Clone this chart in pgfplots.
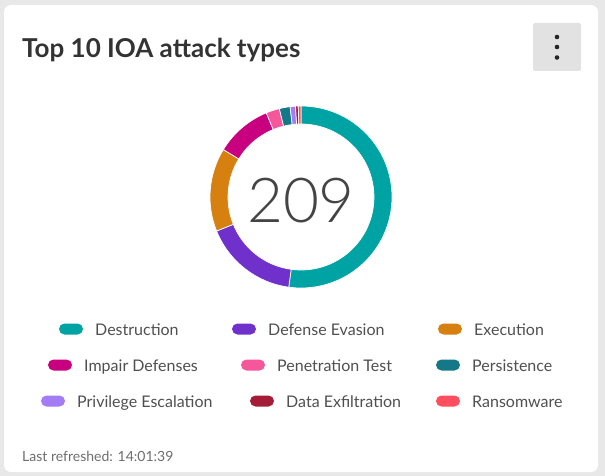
\documentclass[border=0pt]{standalone}
\usepackage{pgfplots}
\pgfplotsset{compat=1.18}
\usepackage{pgfplotstable}
\usepackage{fontspec}
\setmainfont{Lato}
\newfontfamily\thinfont{Lato}[UprightFont={* Light}]
\definecolor{bgout}{HTML}{E8E8E8}
\definecolor{btn}{HTML}{E2E2E2}
\definecolor{titlec}{HTML}{333333}
\definecolor{legc}{HTML}{505050}
\definecolor{footc}{HTML}{6E6E6E}
\definecolor{numc}{HTML}{444444}
\definecolor{cDestr}{HTML}{00A3A3}
\definecolor{cDefEv}{HTML}{7030CC}
\definecolor{cExec}{HTML}{D68010}
\definecolor{cImpair}{HTML}{C8007F}
\definecolor{cPen}{HTML}{F5589A}
\definecolor{cPers}{HTML}{157889}
\definecolor{cPriv}{HTML}{A47CF6}
\definecolor{cExfil}{HTML}{A51C38}
\definecolor{cRans}{HTML}{FF4F5E}

\pgfplotstableread[col sep=comma]{
name,value,col
Destruction,109,cDestr
Defense Evasion,35,cDefEv
Execution,31,cExec
Impair Defenses,21,cImpair
Penetration Test,5,cPen
Persistence,4,cPers
Privilege Escalation,2,cPriv
Data Exfiltration,1,cExfil
Ransomware,1,cRans
}\datatable

% build donut drawing commands from the table
\def\cx{301}\def\cy{197}\def\ro{91}\def\ri{73}
\def\total{0}
\pgfplotsforeachungrouped \i in {0,...,8}{%
  \pgfplotstablegetelem{\i}{value}\of\datatable
  \pgfmathsetmacro\total{\total+\pgfplotsretval}%
}
\def\donutcmds{}
\def\cum{0}
\pgfplotsforeachungrouped \i in {0,...,8}{%
  \pgfplotstablegetelem{\i}{value}\of\datatable \let\v=\pgfplotsretval
  \pgfplotstablegetelem{\i}{col}\of\datatable \let\c=\pgfplotsretval
  \pgfmathsetmacro\aone{\cum/\total*360}%
  \pgfmathsetmacro\cum{\cum+\v}%
  \pgfmathsetmacro\atwo{\cum/\total*360}%
  \pgfmathsetmacro\xo{\cx+\ro*sin(\aone)}%
  \pgfmathsetmacro\yo{\cy-\ro*cos(\aone)}%
  \pgfmathsetmacro\xi{\cx+\ri*sin(\atwo)}%
  \pgfmathsetmacro\yi{\cy-\ri*cos(\atwo)}%
  \pgfmathsetmacro\sa{90-\aone}%
  \pgfmathsetmacro\sb{90-\atwo}%
  \edef\donutcmds{\donutcmds
    \noexpand\fill[\c, draw=white, line width=0.7pt] (axis cs:\xo,\yo) arc[start angle=\sa, end angle=\sb, radius=\ro pt] -- (axis cs:\xi,\yi) arc[start angle=\sb, end angle=\sa, radius=\ri pt] -- cycle;}%
}

\begin{document}
\begin{tikzpicture}
\begin{axis}[width=605pt,height=476pt,scale only axis,
  xmin=0,xmax=605,ymin=0,ymax=476,y dir=reverse,
  axis lines=none, clip=false, ticks=none]
% card
\fill[bgout] (axis cs:0,0) rectangle (axis cs:605,476);
\fill[white, rounded corners=7pt] (axis cs:4,5) rectangle (axis cs:598,472);
% title
\node[anchor=base west, inner sep=0pt, text=titlec, font=\fontsize{26}{30}\selectfont\bfseries] at (axis cs:22,57.5) {Top 10 IOA attack types};
% menu button
\fill[btn, rounded corners=1.5pt] (axis cs:533,23) rectangle (axis cs:581,71);
\fill[black!85] (axis cs:557,37) circle[radius=2.3pt];
\fill[black!85] (axis cs:557,47) circle[radius=2.3pt];
\fill[black!85] (axis cs:557,57.5) circle[radius=2.3pt];
% donut
\donutcmds
\node[text=numc, font=\fontsize{62}{70}\thinfont\selectfont] at (axis cs:\cx,201) {209};
% legend
\fill[cDestr, rounded corners=5.5pt] (axis cs:59,323.5) rectangle (axis cs:83,334.5);
\node[anchor=base west, inner sep=0pt, text=legc, font=\fontsize{16}{19}\selectfont] at (axis cs:95,335) {Destruction};
\fill[cDefEv, rounded corners=5.5pt] (axis cs:232,323.5) rectangle (axis cs:256,334.5);
\node[anchor=base west, inner sep=0pt, text=legc, font=\fontsize{16}{19}\selectfont] at (axis cs:268,335) {Defense Evasion};
\fill[cExec, rounded corners=5.5pt] (axis cs:438,323.5) rectangle (axis cs:462,334.5);
\node[anchor=base west, inner sep=0pt, text=legc, font=\fontsize{16}{19}\selectfont] at (axis cs:474,335) {Execution};
\fill[cImpair, rounded corners=5.5pt] (axis cs:48,359.5) rectangle (axis cs:72,370.5);
\node[anchor=base west, inner sep=0pt, text=legc, font=\fontsize{16}{19}\selectfont] at (axis cs:84,371) {Impair Defenses};
\fill[cPen, rounded corners=5.5pt] (axis cs:241,359.5) rectangle (axis cs:265,370.5);
\node[anchor=base west, inner sep=0pt, text=legc, font=\fontsize{16}{19}\selectfont] at (axis cs:277,371) {Penetration Test};
\fill[cPers, rounded corners=5.5pt] (axis cs:436,359.5) rectangle (axis cs:460,370.5);
\node[anchor=base west, inner sep=0pt, text=legc, font=\fontsize{16}{19}\selectfont] at (axis cs:472,371) {Persistence};
\fill[cPriv, rounded corners=5.5pt] (axis cs:41,395.5) rectangle (axis cs:65,406.5);
\node[anchor=base west, inner sep=0pt, text=legc, font=\fontsize{16}{19}\selectfont] at (axis cs:77,407) {Privilege Escalation};
\fill[cExfil, rounded corners=5.5pt] (axis cs:250,395.5) rectangle (axis cs:274,406.5);
\node[anchor=base west, inner sep=0pt, text=legc, font=\fontsize{16}{19}\selectfont] at (axis cs:286,407) {Data Exfiltration};
\fill[cRans, rounded corners=5.5pt] (axis cs:436,395.5) rectangle (axis cs:460,406.5);
\node[anchor=base west, inner sep=0pt, text=legc, font=\fontsize{16}{19}\selectfont] at (axis cs:472,407) {Ransomware};
% footer
\node[anchor=base west, inner sep=0pt, text=footc, font=\fontsize{14}{17}\selectfont] at (axis cs:22,461) {Last refreshed: 14:01:39};
\end{axis}
\end{tikzpicture}
\end{document}
